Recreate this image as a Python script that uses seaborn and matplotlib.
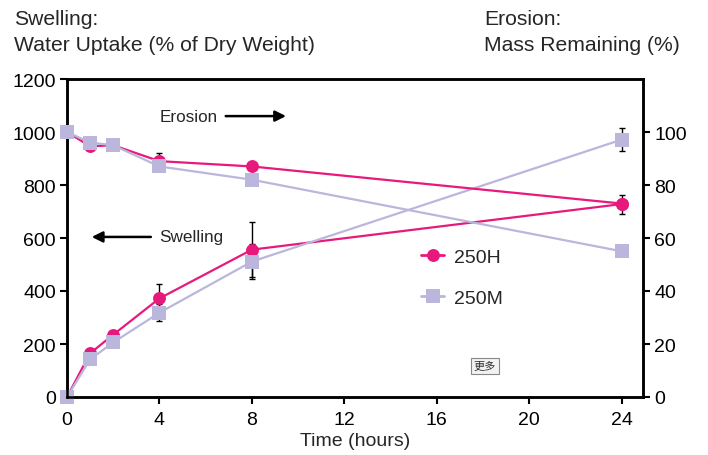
import matplotlib
matplotlib.use("Agg")
import matplotlib.pyplot as plt
import seaborn as sns
import pandas as pd
from matplotlib.lines import Line2D

# ---- data ----
time_h = [0, 1, 2, 4, 8, 24]
swell_250H = [0, 165, 235, 372, 556, 728]
swell_250M = [0, 142, 206, 318, 511, 971]
swell_250H_err = [0, 0, 0, 54, 103, 36]
swell_250M_err = [0, 0, 0, 33, 65, 44]
eros_250H = [100, 94.6, 95, 89, 87, 73]
eros_250M = [100, 96, 95, 87, 82, 55]
eros_250H_err = [0, 0, 0, 3, 0, 0]
series_names = ["250H", "250M"]
x_ticks = [0, 4, 8, 12, 16, 20, 24]
left_ticks = [0, 200, 400, 600, 800, 1000, 1200]
right_ticks = [0, 20, 40, 60, 80, 100]

PINK = "#e8197d"
LAV = "#bbb6dc"

sns.set_style("ticks")
plt.rcParams["font.family"] = ["Liberation Sans", "DejaVu Sans"]

W, H = 708, 456
fig = plt.figure(figsize=(W / 100, H / 100), dpi=100)
ax = fig.add_axes([67 / W, 1 - 398 / H, (643 - 67) / W, (398 - 80) / H])
ax2 = ax.twinx()

sw = pd.DataFrame({"t": time_h * 2,
                   "v": swell_250H + swell_250M,
                   "s": [series_names[0]] * 6 + [series_names[1]] * 6})
er = pd.DataFrame({"t": time_h * 2,
                   "v": eros_250H + eros_250M,
                   "s": [series_names[0]] * 6 + [series_names[1]] * 6})

pal = {series_names[0]: PINK, series_names[1]: LAV}
mk = {series_names[0]: "o", series_names[1]: "s"}
msize = {series_names[0]: 9.3, series_names[1]: 9.8}

# error bars (behind markers)
eb = dict(fmt="none", ecolor="black", elinewidth=1, capsize=2.5, capthick=1, zorder=1)
ax.errorbar(time_h, swell_250H, yerr=swell_250H_err, **eb)
ax.errorbar(time_h, swell_250M, yerr=swell_250M_err, **eb)
ax2.errorbar(time_h, eros_250H, yerr=eros_250H_err, **eb)

for name in series_names:
    sns.lineplot(data=sw[sw.s == name], x="t", y="v", color=pal[name], marker=mk[name],
                 markersize=msize[name], markeredgewidth=0, linewidth=1.6, ax=ax,
                 legend=False, clip_on=False, zorder=3)
    sns.lineplot(data=er[er.s == name], x="t", y="v", color=pal[name], marker=mk[name],
                 markersize=msize[name], markeredgewidth=0, linewidth=1.6, ax=ax2,
                 legend=False, clip_on=False, zorder=3)

ax.set_xlim(0, 24.93)
ax.set_ylim(0, 1200)
ax2.set_ylim(0, 120)
ax.set_xticks(x_ticks)
ax.set_yticks(left_ticks)
ax2.set_yticks(right_ticks)
ax.set_xticklabels([str(v) for v in x_ticks])
ax.set_yticklabels([str(v) for v in left_ticks])
ax2.set_yticklabels([str(v) for v in right_ticks])

for a in (ax, ax2):
    for sp in a.spines.values():
        sp.set_visible(True)
        sp.set_linewidth(1.8)
        sp.set_color("black")
    a.tick_params(axis="both", direction="out", length=5, width=1.5, labelsize=14,
                  colors="black", pad=3)
ax.tick_params(axis="x", pad=5)
ax.set_ylabel("")
ax2.set_ylabel("")
ax.set_xlabel("Time (hours)", fontsize=14, labelpad=3)

# annotations
ax.annotate("", xy=(9.6, 1060), xytext=(6.75, 1060),
            arrowprops=dict(arrowstyle="-|>", color="black", lw=1.8, mutation_scale=16))
ax.text(4.03, 1060, "Erosion", fontsize=12.3, va="center", ha="left")
ax.annotate("", xy=(0.95, 604), xytext=(3.75, 604),
            arrowprops=dict(arrowstyle="-|>", color="black", lw=1.8, mutation_scale=16))
ax.text(3.98, 604, "Swelling", fontsize=12.3, va="center", ha="left")

# legend
handles = [Line2D([0], [0], color=PINK, marker="o", markersize=9.3, markeredgewidth=0, lw=2),
           Line2D([0], [0], color=LAV, marker="s", markersize=9.8, markeredgewidth=0, lw=2)]
fig.legend(handles, series_names, loc="upper left",
           bbox_to_anchor=(421 / W, 1 - 249 / H), frameon=False, fontsize=14,
           handlelength=1.2, handletextpad=0.5, labelspacing=1.2,
           borderpad=0, borderaxespad=0)

# titles
fs_t = 15.2
fig.text(14 / W, 1 - 25 / H, "Swelling:", fontsize=fs_t, va="baseline", ha="left")
fig.text(14 / W, 1 - 51 / H, "Water Uptake (% of Dry Weight)", fontsize=fs_t,
         va="baseline", ha="left")
fig.text(484 / W, 1 - 25 / H, "Erosion:", fontsize=fs_t, va="baseline", ha="left")
fig.text(484 / W, 1 - 51 / H, "Mass Remaining (%)", fontsize=fs_t,
         va="baseline", ha="left")

# small button
fig.text(485 / W, 1 - 367 / H, "更多", fontsize=8, va="center", ha="center",
         family=["Noto Sans CJK SC", "DejaVu Sans"], color="#333333",
         bbox=dict(boxstyle="square,pad=0.3", fc="#f2f2f2", ec="#888888", lw=0.8))

fig.savefig("out.png", dpi=100)
